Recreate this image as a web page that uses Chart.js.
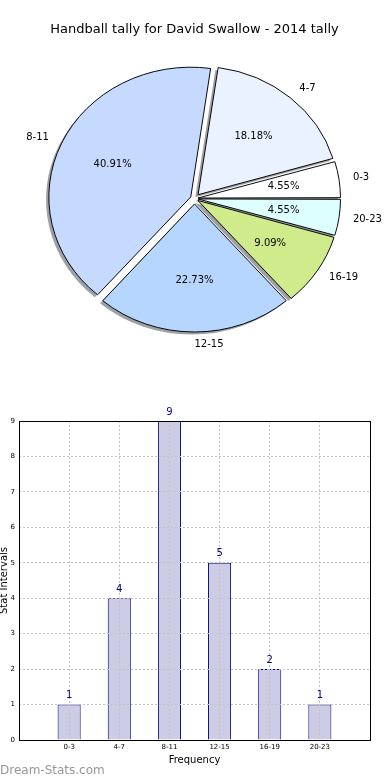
<!DOCTYPE html>
<html>
<head>
<meta charset="utf-8">
<script src="https://cdn.jsdelivr.net/npm/chart.js@4.4.0/dist/chart.umd.min.js"></script>
<style>
  html, body { margin: 0; padding: 0; background: #fff; }
  body { width: 390px; height: 780px; position: relative; overflow: hidden; }
  #pie { position: absolute; left: 0; top: 0; }
  #bars { position: absolute; left: 0; top: 380px; }
  #mark { position: absolute; left: 0; top: 763px; font: 12px "DejaVu Sans", sans-serif; color: #979797; }
</style>
</head>
<body>
<canvas id="pie" width="390" height="380"></canvas>
<canvas id="bars" width="390" height="400"></canvas>
<div id="mark">Dream-Stats.com</div>
<script>
const chartTitle = 'Handball tally for David Swallow - 2014 tally';
const categories = ['0-3', '4-7', '8-11', '12-15', '16-19', '20-23'];
const tallies = [1, 4, 9, 5, 2, 1];
const sliceColors = ['#ffffff', '#ebf2ff', '#c6d9ff', '#b7d6ff', '#d0eb8c', '#ddffff'];
const yTicks = [0, 1, 2, 3, 4, 5, 6, 7, 8, 9];

const FONT = '"DejaVu Sans", sans-serif';
const total = tallies.reduce((a, b) => a + b, 0);

// matplotlib goes counter-clockwise from 3 o'clock, chart.js clockwise: reverse
const pieLabels = categories.slice().reverse();
const pieValues = tallies.slice().reverse();
const pieColors = sliceColors.slice().reverse();

// chart.js moves an arc by offset/4 * (1 + fix); aim for the same gap everywhere
const gap = 6;
const pieOffsets = pieValues.map(v => {
  const circ = 2 * Math.PI * v / total;
  const fix = 1 - Math.sin(Math.min(Math.PI, circ));
  return 4 * gap / (1 + fix);
});

const squash = 128 / 140; // reference pie is an ellipse

const ellipsePie = {
  id: 'ellipsePie',
  beforeDatasetsDraw(chart) {
    const ctx = chart.ctx;
    const arcs = chart.getDatasetMeta(0).data;
    const cx = arcs[0].x, cy = arcs[0].y;
    ctx.save();
    ctx.translate(cx, cy);
    ctx.scale(1, squash);
    ctx.translate(-cx, -cy);
    // shadows under all wedges
    ctx.save();
    ctx.translate(-2.8, 2.8);
    arcs.forEach(arc => {
      const saved = arc.options;
      arc.options = Object.assign({}, saved, {
        backgroundColor: 'rgba(60,65,75,0.5)', borderWidth: 0
      });
      arc.draw(ctx);
      arc.options = saved;
    });
    ctx.restore();
  },
  afterDatasetsDraw(chart) {
    const ctx = chart.ctx;
    ctx.restore();
    const arcs = chart.getDatasetMeta(0).data;
    ctx.save();
    ctx.fillStyle = '#000';
    ctx.font = '10px ' + FONT;
    ctx.textBaseline = 'middle';
    arcs.forEach((arc, i) => {
      const mid = (arc.startAngle + arc.endAngle) / 2;
      const R = arc.outerRadius;
      const c = Math.cos(mid), s = Math.sin(mid);
      // percentage
      let d = gap + 0.6 * R;
      ctx.textAlign = 'center';
      ctx.fillText((pieValues[i] / total * 100).toFixed(2) + '%', arc.x + d * c, arc.y + squash * d * s);
      // category name
      d = gap + 1.1 * R;
      ctx.textAlign = c >= -0.01 ? 'left' : 'right';
      ctx.fillText(pieLabels[i], arc.x + d * c, arc.y + squash * d * s);
    });
    ctx.restore();
  }
};

new Chart(document.getElementById('pie'), {
  type: 'pie',
  data: {
    labels: pieLabels,
    datasets: [{
      data: pieValues,
      backgroundColor: pieColors,
      borderColor: '#000',
      borderWidth: 1,
      offset: pieOffsets
    }]
  },
  options: {
    responsive: false,
    animation: false,
    rotation: 90,
    layout: { padding: { left: 42.1, right: 43.1, top: 1, bottom: 28.6 } },
    plugins: {
      legend: { display: false },
      tooltip: { enabled: false },
      title: {
        display: true,
        text: chartTitle,
        color: '#000',
        font: { family: FONT, size: 13, weight: 'normal' },
        padding: { top: 21.2, bottom: 7.8 }
      }
    }
  },
  plugins: [ellipsePie]
});

// bar chart: blank slots at both ends give the axis its margins
const barLabels = [''].concat(categories, ['']);
const barValues = [null].concat(tallies, [null]);

const barExtras = {
  id: 'barExtras',
  afterDraw(chart) {
    const a = chart.chartArea;
    const ctx = chart.ctx;
    ctx.save();
    ctx.strokeStyle = '#000';
    ctx.lineWidth = 1;
    ctx.strokeRect(Math.round(a.left) + 0.5, Math.round(a.top) + 0.5,
      Math.round(a.right - a.left), Math.round(a.bottom - a.top));
    // value labels above the bars
    ctx.fillStyle = '#000080';
    ctx.font = '10px ' + FONT;
    ctx.textAlign = 'center';
    ctx.textBaseline = 'middle';
    chart.getDatasetMeta(0).data.forEach((bar, i) => {
      if (barValues[i] == null) return;
      ctx.fillText(String(barValues[i]), bar.x, bar.y - 9);
    });
    ctx.restore();
  }
};

new Chart(document.getElementById('bars'), {
  type: 'bar',
  data: {
    labels: barLabels,
    datasets: [{
      data: barValues,
      backgroundColor: '#ccccE4',
      borderColor: '#000080',
      borderWidth: 1,
      barPercentage: 0.46,
      categoryPercentage: 1
    }]
  },
  options: {
    responsive: false,
    animation: false,
    layout: { padding: { left: 0, right: 20, top: 41, bottom: 0 } },
    plugins: { legend: { display: false }, tooltip: { enabled: false } },
    scales: {
      x: {
        offset: false,
        grid: { color: '#c4c4c4', drawTicks: false, offset: false, z: 1 },
        border: { display: false, dash: [2, 2] },
        ticks: { color: '#000', font: { family: FONT, size: 7 }, padding: 3, maxRotation: 0, autoSkip: false },
        title: { display: true, text: 'Frequency', color: '#000', font: { family: FONT, size: 10 }, padding: { top: 0, bottom: 14 } },
        afterFit(scale) { scale.height = 40; }
      },
      y: {
        min: yTicks[0],
        max: yTicks[yTicks.length - 1],
        afterBuildTicks(scale) { scale.ticks = yTicks.map(v => ({ value: v })); },
        grid: { color: '#c4c4c4', drawTicks: false, z: 1 },
        border: { display: false, dash: [2, 2] },
        ticks: { color: '#000', font: { family: FONT, size: 7 }, padding: 4 },
        title: { display: true, text: 'Stat Intervals', color: '#000', font: { family: FONT, size: 10 }, padding: { top: -2, bottom: 0 } },
        afterFit(scale) { scale.width = 19; }
      }
    }
  },
  plugins: [barExtras]
});
</script>
</body>
</html>
